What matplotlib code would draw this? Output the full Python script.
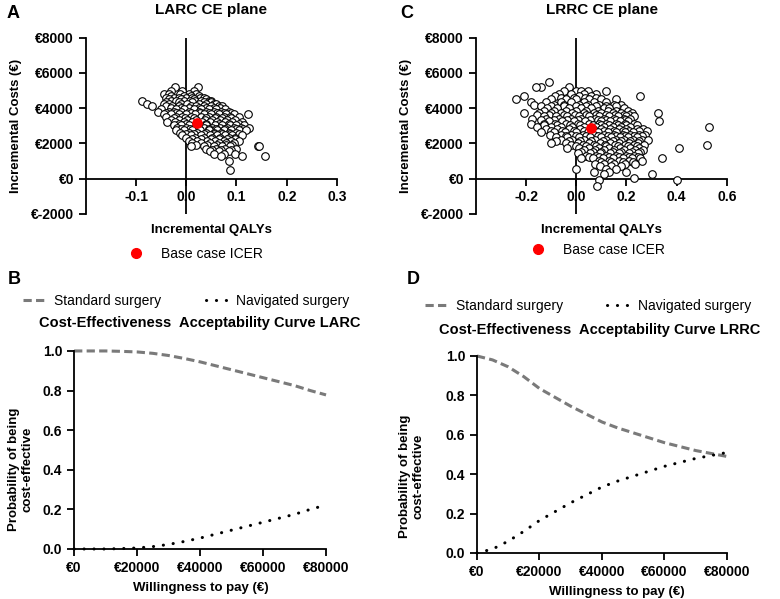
import matplotlib
matplotlib.use("Agg")
import matplotlib.pyplot as plt
from matplotlib.lines import Line2D

plt.rcParams['font.family'] = ['Liberation Sans', 'DejaVu Sans']

# ---- CE plane data (incremental QALYs, incremental costs), read row by row ----
larc_rows = [
    (5200, [-0.022, 0.023]),
    (5000, [-0.030, 0.015, -0.008]),
    (4800, [-0.045, -0.035, -0.012, 0.005, 0.02]),
    (4700, [-0.03, -0.005, 0.01, 0.025]),
    (4600, [-0.04, -0.025, -0.015, 0.0, 0.012, 0.028, 0.036]),
    (4500, [-0.035, -0.01, 0.015, 0.04]),
    (4400, [-0.088, -0.03, -0.02, -0.005, 0.008, 0.018, 0.03, 0.045, 0.05]),
    (4325, [-0.04, -0.015, 0.012, 0.035, 0.05]),
    (4250, [-0.078, -0.045, -0.035, -0.01, 0.002, 0.025, 0.04, 0.055, 0.06]),
    (4100, [-0.068, -0.04, -0.028, -0.015, 0.01, 0.02, 0.035, 0.05, 0.065, 0.072]),
    (4025, [-0.03, -0.01, 0.005, 0.025, 0.04, 0.055, 0.068]),
    (3950, [-0.05, -0.02, -0.005, 0.015, 0.03, 0.045, 0.06, 0.078]),
    (3800, [-0.057, -0.035, -0.025, -0.01, 0.005, 0.025, 0.04, 0.055, 0.07, 0.085]),
    (3725, [-0.04, -0.02, 0.01, 0.028, 0.045, 0.062, 0.075, 0.09]),
    (3650, [-0.045, -0.03, -0.015, 0.0, 0.018, 0.035, 0.05, 0.065, 0.08, 0.095, 0.122]),
    (3500, [-0.040, -0.02, -0.008, 0.01, 0.03, 0.045, 0.06, 0.075, 0.088, 0.105]),
    (3425, [-0.025, -0.002, 0.015, 0.04, 0.058, 0.072, 0.09]),
    (3350, [-0.03, -0.015, 0.002, 0.02, 0.038, 0.052, 0.068, 0.082, 0.098]),
    (3200, [-0.039, -0.022, -0.005, 0.012, 0.032, 0.048, 0.062, 0.078, 0.092, 0.11]),
    (3125, [-0.015, 0.0, 0.02, 0.04, 0.066, 0.085, 0.105]),
    (3050, [-0.025, -0.01, 0.005, 0.025, 0.04, 0.058, 0.072, 0.088, 0.1, 0.115]),
    (2900, [-0.018, 0.0, 0.018, 0.035, 0.052, 0.068, 0.082, 0.096, 0.108, 0.125]),
    (2825, [-0.01, 0.008, 0.025, 0.045, 0.06, 0.078, 0.1, 0.112]),
    (2750, [-0.02, -0.005, 0.012, 0.028, 0.045, 0.062, 0.075, 0.09, 0.105, 0.118]),
    (2600, [-0.012, 0.005, 0.022, 0.04, 0.055, 0.07, 0.085, 0.1]),
    (2525, [0.0, 0.015, 0.035, 0.055, 0.072, 0.088, 0.105]),
    (2450, [-0.008, 0.01, 0.03, 0.048, 0.062, 0.078, 0.092, 0.11]),
    (2300, [0.0, 0.018, 0.035, 0.052, 0.068, 0.085, 0.098]),
    (2225, [0.012, 0.03, 0.05, 0.066, 0.082, 0.098]),
    (2150, [0.005, 0.022, 0.042, 0.058, 0.075, 0.09, 0.105]),
    (2000, [0.012, 0.03, 0.048, 0.065, 0.08, 0.095]),
    (1925, [0.02, 0.042, 0.062, 0.08, 0.092]),
    (1850, [0.01, 0.035, 0.055, 0.072, 0.088, 0.142, 0.145]),
    (1700, [0.04, 0.06, 0.078, 0.1]),
    (1625, [0.052, 0.07, 0.09]),
    (1550, [0.048, 0.065, 0.085]),
    (1400, [0.055, 0.075, 0.098]),
    (1300, [0.07, 0.111, 0.156]),
    (1000, [0.086]),
    (500, [0.087]),
]

lrrc_rows = [
    (5500, [-0.11]),
    (5200, [-0.14, -0.16, -0.03]),
    (5000, [-0.05, 0.0, 0.02, 0.045, 0.12]),
    (4800, [-0.07, -0.02, 0.03, 0.08]),
    (4700, [-0.21, -0.085, 0.01, 0.06, 0.255]),
    (4600, [-0.06, -0.01, 0.035, 0.08]),
    (4500, [-0.24, -0.1, -0.04, 0.0, 0.05, 0.1, 0.16]),
    (4350, [-0.18, -0.12, -0.06, -0.02, 0.03, 0.07, 0.12]),
    (4200, [-0.17, -0.09, -0.05, 0.01, 0.045, 0.09, 0.15, 0.18]),
    (4100, [-0.14, -0.1, -0.05, 0.0, 0.04, 0.08, 0.12, 0.16]),
    (4000, [-0.115, -0.075, -0.03, 0.02, 0.06, 0.11, 0.13, 0.19]),
    (3850, [-0.13, -0.09, -0.04, 0.0, 0.04, 0.085, 0.125, 0.16, 0.205]),
    (3700, [-0.21, -0.15, -0.1, -0.06, -0.015, 0.03, 0.07, 0.1, 0.145, 0.18, 0.22, 0.325]),
    (3625, [-0.155, -0.11, -0.05, -0.005, 0.04, 0.08, 0.12, 0.155, 0.19, 0.21]),
    (3550, [-0.13, -0.08, -0.035, 0.01, 0.05, 0.09, 0.13, 0.165, 0.2, 0.23]),
    (3400, [-0.175, -0.12, -0.07, -0.02, 0.02, 0.075, 0.11, 0.15, 0.19, 0.215]),
    (3325, [-0.14, -0.09, -0.035, 0.005, 0.055, 0.085, 0.12, 0.16, 0.195]),
    (3250, [-0.11, -0.055, -0.01, 0.035, 0.1, 0.135, 0.175, 0.205, 0.33]),
    (3100, [-0.18, -0.13, -0.085, -0.04, 0.005, 0.05, 0.09, 0.12, 0.16, 0.195, 0.23]),
    (3025, [-0.13, -0.075, -0.025, 0.015, 0.065, 0.1, 0.13, 0.165, 0.2, 0.24]),
    (2950, [-0.155, -0.1, -0.06, -0.015, 0.03, 0.08, 0.11, 0.145, 0.18, 0.215, 0.53]),
    (2800, [-0.12, -0.075, -0.03, 0.015, 0.065, 0.1, 0.135, 0.17, 0.2, 0.24, 0.265]),
    (2725, [-0.1, -0.055, -0.01, 0.03, 0.075, 0.11, 0.15, 0.185, 0.21, 0.25, 0.28]),
    (2650, [-0.14, -0.09, -0.045, 0.0, 0.045, 0.085, 0.125, 0.16, 0.195, 0.225]),
    (2500, [-0.105, -0.06, -0.02, 0.025, 0.07, 0.11, 0.15, 0.185, 0.215, 0.25, 0.275]),
    (2425, [-0.04, 0.0, 0.04, 0.085, 0.125, 0.16, 0.195, 0.23, 0.26]),
    (2350, [-0.08, -0.035, 0.01, 0.055, 0.1, 0.14, 0.175, 0.205, 0.24]),
    (2200, [-0.06, -0.015, 0.03, 0.075, 0.12, 0.16, 0.19, 0.225, 0.26, 0.285]),
    (2125, [-0.08, -0.03, 0.015, 0.06, 0.105, 0.145, 0.18, 0.215, 0.25]),
    (2050, [-0.1, -0.04, 0.005, 0.05, 0.095, 0.135, 0.17, 0.21, 0.245]),
    (1900, [-0.02, 0.025, 0.07, 0.115, 0.155, 0.195, 0.23, 0.27, 0.52]),
    (1825, [0.0, 0.04, 0.08, 0.12, 0.165, 0.205, 0.24]),
    (1750, [-0.035, 0.01, 0.05, 0.09, 0.13, 0.175, 0.215, 0.25, 0.41]),
    (1600, [0.03, 0.075, 0.11, 0.15, 0.19, 0.235, 0.265]),
    (1525, [0.02, 0.065, 0.1, 0.145, 0.18, 0.22, 0.255]),
    (1450, [0.005, 0.055, 0.095, 0.135, 0.17, 0.21, 0.245]),
    (1300, [0.04, 0.08, 0.12, 0.16, 0.2, 0.23]),
    (1225, [0.05, 0.09, 0.13, 0.17, 0.21, 0.245]),
    (1150, [0.02, 0.065, 0.105, 0.145, 0.185, 0.22, 0.255, 0.34]),
    (1000, [0.09, 0.13, 0.17, 0.21, 0.26]),
    (925, [0.1, 0.14, 0.185, 0.225]),
    (850, [0.075, 0.11, 0.15, 0.195, 0.235]),
    (700, [0.095, 0.14, 0.18]),
    (550, [0.12, 0.16, 0.0]),
    (400, [0.069, 0.13, 0.2]),
    (250, [0.11, 0.3]),
    (30, [0.23]),
    (-100, [0.4, 0.089]),
    (-400, [0.084]),
]

larc_base = (0.022, 3150)
lrrc_base = (0.06, 2900)

# ---- CEAC data ----
wtp = [0, 5000, 10000, 15000, 20000, 25000, 30000, 35000, 40000,
       45000, 50000, 55000, 60000, 65000, 70000, 75000, 80000]
larc_standard = [1.0, 1.0, 1.0, 0.998, 0.995, 0.988, 0.977, 0.962, 0.945,
                 0.925, 0.905, 0.885, 0.865, 0.845, 0.825, 0.80, 0.778]
larc_navigated = [0.0, 0.0, 0.0, 0.002, 0.005, 0.012, 0.023, 0.038, 0.055,
                  0.075, 0.095, 0.115, 0.135, 0.155, 0.175, 0.20, 0.222]
lrrc_standard = [1.0, 0.98, 0.945, 0.895, 0.835, 0.79, 0.745, 0.705, 0.665,
                 0.635, 0.61, 0.585, 0.56, 0.54, 0.52, 0.505, 0.49]
lrrc_navigated = [0.0, 0.02, 0.06, 0.11, 0.165, 0.21, 0.255, 0.295, 0.335,
                  0.365, 0.39, 0.415, 0.44, 0.46, 0.48, 0.495, 0.51]

fig = plt.figure(figsize=(7.8, 5.99), dpi=100)

SPINE_LW = 1.3
GRAY = '#7a7a7a'


def style_axes(ax):
    for s in ['top', 'right']:
        ax.spines[s].set_visible(False)
    for s in ['left', 'bottom']:
        ax.spines[s].set_linewidth(SPINE_LW)
    ax.tick_params(direction='out', length=5, width=SPINE_LW, labelsize=10)
    for lab in ax.get_xticklabels() + ax.get_yticklabels():
        lab.set_fontweight('bold')


def ce_plane(ax, rows, base, xlim, xticks, xticklabels, title, title_x):
    qaly = [x for c, xs in rows for x in xs]
    cost = [c for c, xs in rows for x in xs]
    ax.scatter(qaly, cost, s=30, facecolor='white', edgecolor='black',
               linewidth=0.8, zorder=3, clip_on=False)
    ax.scatter([base[0]], [base[1]], s=45, color='#ff0000', zorder=4)
    ax.axvline(0, color='black', lw=SPINE_LW, zorder=2)
    ax.set_xlim(*xlim)
    ax.set_ylim(-2000, 8000)
    ax.spines['bottom'].set_position(('data', 0))
    ax.set_xticks(xticks)
    ax.set_xticklabels(xticklabels)
    yt = [-2000, 0, 2000, 4000, 6000, 8000]
    ax.set_yticks(yt)
    ax.set_yticklabels(['€' + str(v) for v in yt])
    style_axes(ax)
    ax.set_ylabel('Incremental Costs (€)', fontsize=9.5, fontweight='bold')
    ax.yaxis.set_label_coords(-0.255, 0.5)
    ax.set_xlabel('Incremental QALYs', fontsize=9.5, fontweight='bold')
    ax.xaxis.set_label_coords(0.5, -0.06)
    fig.text(title_x, 0.983, title, fontsize=11, fontweight='bold',
             ha='center', va='center')


def ceac(ax, standard, navigated, title, title_x, title_y, leg_x, leg_y, xlab_x, ylab_x, ylab_y):
    ax.plot(wtp, standard, color=GRAY, lw=2.2, dashes=(2.7, 1.4),
            label='Standard surgery', clip_on=False)
    ax.plot(wtp, navigated, color='black', lw=2.2, linestyle=(0, (0.05, 3.2)),
            dash_capstyle='round', label='Navigated surgery', clip_on=False)
    ax.set_xlim(0, 80000)
    ax.set_ylim(0, 1.0)
    xt = [0, 20000, 40000, 60000, 80000]
    ax.set_xticks(xt)
    ax.set_xticklabels(['€' + str(v) for v in xt])
    ax.set_yticks([0, 0.2, 0.4, 0.6, 0.8, 1.0])
    ax.set_yticklabels(['0.0', '0.2', '0.4', '0.6', '0.8', '1.0'])
    style_axes(ax)
    ax.set_ylabel('Probability of being\ncost-effective', fontsize=9.5,
                  fontweight='bold', linespacing=1.25)
    ax.yaxis.set_label_coords(ylab_x, ylab_y)
    ax.set_xlabel('Willingness to pay (€)', fontsize=9.5, fontweight='bold')
    ax.xaxis.set_label_coords(xlab_x, -0.165)
    fig.legend(handles=ax.get_lines(), loc='center', ncol=2, frameon=False,
               bbox_to_anchor=(leg_x, leg_y), fontsize=10, handlelength=1.7,
               columnspacing=3.2, handletextpad=0.5)
    fig.text(title_x, title_y, title, fontsize=10.5, fontweight='bold',
             ha='center', va='center')


ax_a = fig.add_axes([0.110, 0.643, 0.322, 0.294])
ce_plane(ax_a, larc_rows, larc_base, (-0.2, 0.3), [-0.1, 0.0, 0.1, 0.2, 0.3],
         ['-0.1', '0.0', '0.1', '0.2', '0.3'], 'LARC CE plane', 0.271)

ax_c = fig.add_axes([0.610, 0.643, 0.322, 0.294])
ce_plane(ax_c, lrrc_rows, lrrc_base, (-0.4, 0.6), [-0.2, 0.0, 0.2, 0.4, 0.6],
         ['-0.2', '0.0', '0.2', '0.4', '0.6'], 'LRRC CE plane', 0.772)

base_handle = Line2D([], [], marker='o', color='#ff0000', linestyle='',
                     markersize=7)
for lx, ly in [(0.247, 0.576), (0.762, 0.583)]:
    fig.legend(handles=[base_handle], labels=['Base case ICER'], loc='center',
               frameon=False, bbox_to_anchor=(lx, ly), fontsize=10,
               handletextpad=0.8)

ax_b = fig.add_axes([0.095, 0.0835, 0.323, 0.3306])
ceac(ax_b, larc_standard, larc_navigated,
     'Cost-Effectiveness  Acceptability Curve LARC', 0.256, 0.461,
     0.239, 0.4975, 0.504, -0.160, 0.404)

ax_d = fig.add_axes([0.6115, 0.0768, 0.3205, 0.3289])
ceac(ax_d, lrrc_standard, lrrc_navigated,
     'Cost-Effectiveness  Acceptability Curve LRRC', 0.769, 0.449,
     0.754, 0.489, 0.56, -0.208, 0.39)

for letter, x, y in [('A', 0.017, 0.978), ('C', 0.522, 0.978),
                     ('B', 0.018, 0.533), ('D', 0.530, 0.533)]:
    fig.text(x, y, letter, fontsize=13, fontweight='bold', ha='center', va='center')

fig.savefig('out.png', dpi=100)
